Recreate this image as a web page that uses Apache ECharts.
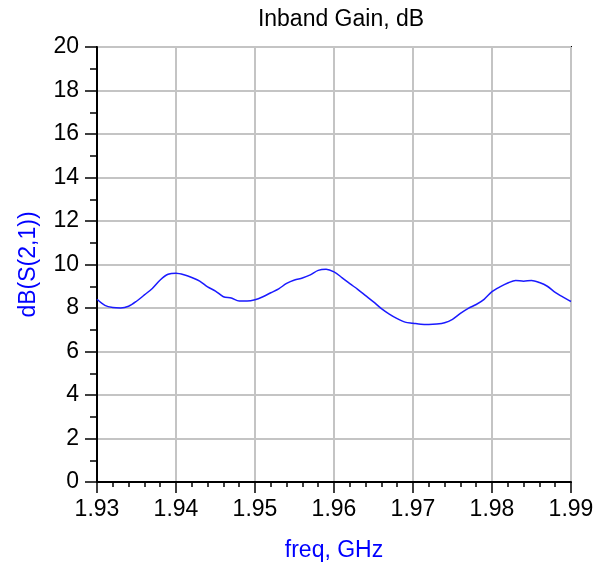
<!DOCTYPE html>
<html>
<head>
<meta charset="utf-8">
<title>Inband Gain</title>
<script src="https://cdn.jsdelivr.net/npm/echarts@6/dist/echarts.min.js"></script>
<style>
  html, body { margin: 0; padding: 0; background: #fff; }
  #main { width: 608px; height: 564px; }
</style>
</head>
<body>
<div id="main"></div>
<script>
// frequency points, GHz
var freq = [
  1.930, 1.931, 1.932, 1.933, 1.934, 1.935, 1.936, 1.937, 1.938, 1.939,
  1.940, 1.941, 1.942, 1.943, 1.944, 1.945, 1.946, 1.947, 1.948, 1.949,
  1.950, 1.951, 1.952, 1.953, 1.954, 1.955, 1.956, 1.957, 1.958, 1.959,
  1.960, 1.961, 1.962, 1.963, 1.964, 1.965, 1.966, 1.967, 1.968, 1.969,
  1.970, 1.971, 1.972, 1.973, 1.974, 1.975, 1.976, 1.977, 1.978, 1.979,
  1.980, 1.981, 1.982, 1.983, 1.984, 1.985, 1.986, 1.987, 1.988, 1.989,
  1.990
];
// dB(S(2,1))
var gain = [
  8.40, 8.12, 8.02, 8.00, 8.08, 8.31, 8.60, 8.90, 9.29, 9.55,
  9.60, 9.53, 9.40, 9.24, 8.97, 8.78, 8.52, 8.46, 8.32, 8.32,
  8.38, 8.52, 8.70, 8.88, 9.13, 9.29, 9.38, 9.52, 9.73, 9.78,
  9.66, 9.40, 9.12, 8.86, 8.57, 8.28, 7.97, 7.72, 7.51, 7.35,
  7.30, 7.25, 7.24, 7.26, 7.32, 7.48, 7.75, 7.98, 8.16, 8.40,
  8.75, 8.97, 9.15, 9.27, 9.23, 9.27, 9.17, 9.00, 8.72, 8.50,
  8.30
];

var chart = echarts.init(document.getElementById('main'));

var pts = [];
for (var i = 0; i < freq.length; i++) {
  pts.push([freq[i], gain[i]]);
}

var font = 'Arial, "Liberation Sans", sans-serif';

var option = {
  backgroundColor: '#fff',
  animation: false,
  title: {
    text: 'Inband Gain, dB',
    left: 336,
    top: 3,
    textAlign: 'center',
    textStyle: { color: '#000', fontSize: 23, fontWeight: 'normal', fontFamily: font }
  },
  grid: {
    left: 97, top: 47, right: 37, bottom: 82,
    outerBoundsMode: 'none',
    containLabel: false,
    show: true,
    borderColor: '#000',
    borderWidth: 2
  },
  xAxis: {
    type: 'value',
    min: 1.93,
    max: 1.99,
    interval: 0.01,
    name: 'freq, GHz',
    nameLocation: 'middle',
    nameGap: 57,
    nameTextStyle: { color: '#0000ff', fontSize: 23, fontFamily: font },
    axisLine: { show: true, onZero: false, lineStyle: { color: '#000', width: 2 } },
    axisTick: { show: true, length: 11, lineStyle: { color: '#000', width: 1.5 } },
    minorTick: { show: true, splitNumber: 5, length: 5, lineStyle: { color: '#000', width: 1.5 } },
    axisLabel: {
      color: '#000', fontSize: 23, fontFamily: font, margin: 16,
      formatter: function (v) { return v.toFixed(2); }
    },
    splitLine: { show: true, lineStyle: { color: '#c4c4c4', width: 2 } }
  },
  yAxis: {
    type: 'value',
    min: 0,
    max: 20,
    interval: 2,
    name: 'dB(S(2,1))',
    nameLocation: 'middle',
    nameGap: 57,
    nameTextStyle: { color: '#0000ff', fontSize: 23, fontFamily: font },
    axisLine: { show: true, lineStyle: { color: '#000', width: 2 } },
    axisTick: { show: true, length: 12, lineStyle: { color: '#000', width: 1.5 } },
    minorTick: { show: true, splitNumber: 2, length: 7, lineStyle: { color: '#000', width: 1.5 } },
    axisLabel: { color: '#000', fontSize: 23, fontFamily: font, margin: 18 },
    splitLine: { show: true, lineStyle: { color: '#c4c4c4', width: 2 } }
  },
  series: [
    {
      name: 'dB(S(2,1))',
      type: 'line',
      data: pts,
      showSymbol: false,
      smooth: 0.3,
      lineStyle: { color: '#1a1aff', width: 1.5 }
    }
  ]
};

chart.setOption(option);
</script>
</body>
</html>
